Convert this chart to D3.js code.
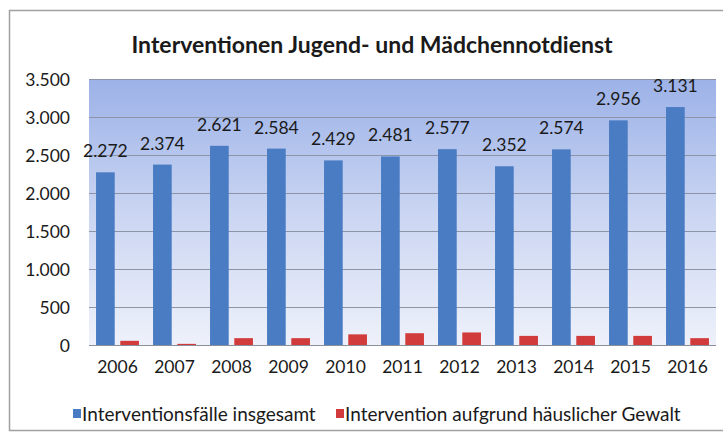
<!DOCTYPE html>
<html><head><meta charset="utf-8">
<script src="https://cdn.jsdelivr.net/npm/d3@7"></script>
<style>body{margin:0;background:#fff;} text{font-family:Lato,"Open Sans",sans-serif;fill:#1a1a1a;}</style>
</head><body>
<svg id="c" width="723" height="441"></svg>
<script>
const years = ["2006","2007","2008","2009","2010","2011","2012","2013","2014","2015","2016"];
const totalCases = [2272,2374,2621,2584,2429,2481,2577,2352,2574,2956,3131];
const domesticViolence = [55,15,90,90,140,155,165,120,120,120,90];
const seriesNames = ["Interventionsfälle insgesamt","Intervention aufgrund häuslicher Gewalt"];
const yTicks = [0,500,1000,1500,2000,2500,3000,3500];
const title = "Interventionen Jugend- und Mädchennotdienst";

const svg = d3.select("#c");
const fmt = d3.formatLocale({decimal:",",thousands:".",grouping:[3],currency:["","€"]}).format(",d");
const L=89,R=716,T=79,B=345;
const colors=["#4a7cc3","#d23b3c"];

svg.append("rect").attr("x",9.5).attr("y",10.5).attr("width",730).attr("height",420).attr("fill","#fff").attr("stroke","#a0a0a0").attr("stroke-width",1.5);

const defs=svg.append("defs");
const g=defs.append("linearGradient").attr("id","bg").attr("x1",0).attr("y1",0).attr("x2",0).attr("y2",1);
g.append("stop").attr("offset","0").attr("stop-color","#9db2e8");
g.append("stop").attr("offset","0.14").attr("stop-color","#a8bbea");
g.append("stop").attr("offset","0.5").attr("stop-color","#cad5f2");
g.append("stop").attr("offset","1").attr("stop-color","#eef1fa");

const x0=d3.scaleBand().domain(years).range([L,R]).padding(0);
const x1=d3.scaleBand().domain([0,1]).range([0,x0.bandwidth()]).paddingInner(0.23).paddingOuter(0.29);
const y=d3.scaleLinear().domain([0,3500]).range([B,T]);

svg.append("rect").attr("x",L).attr("y",T).attr("width",R-L).attr("height",B-T).attr("fill","url(#bg)");

svg.append("g").selectAll("line").data(yTicks).join("line")
  .attr("x1",L).attr("x2",R).attr("y1",d=>y(d)+0.5).attr("y2",d=>y(d)+0.5)
  .attr("stroke",d=>d===0?"#8a8f99":"#8d94a8").attr("stroke-width",1);

const yAxis=svg.append("g").attr("transform",`translate(${L-19},0)`).call(d3.axisLeft(y).tickValues(yTicks).tickFormat(fmt).tickSize(0));
yAxis.select(".domain").remove();
yAxis.selectAll("text").attr("font-size",17.5).attr("dy","0.35em").attr("x",0).style("font-family","Lato");

const xAxis=svg.append("g").attr("transform",`translate(0,${B})`).call(d3.axisBottom(x0).tickSize(0));
xAxis.select(".domain").remove();
xAxis.selectAll("text").attr("font-size",17.5).attr("y",22).attr("dy","0.35em").style("font-family","Lato");

const data=[totalCases,domesticViolence];
data.forEach((vals,si)=>{
  svg.append("g").selectAll("rect").data(vals).join("rect")
    .attr("x",(d,i)=>x0(years[i])+x1(si))
    .attr("width",x1.bandwidth())
    .attr("y",d=>y(d))
    .attr("height",d=>B-y(d))
    .attr("fill",colors[si]);
});

svg.append("g").selectAll("text").data(totalCases).join("text")
  .attr("x",(d,i)=>x0(years[i])+x1(0)+x1.bandwidth()/2)
  .attr("y",d=>y(d)-15)
  .attr("text-anchor","middle").attr("font-size",17.5).attr("fill","#1a1a1a")
  .text(d=>fmt(d));

svg.append("text").attr("x",372).attr("y",53).attr("text-anchor","middle")
  .attr("font-size",23).attr("font-weight","bold").text(title);

const leg=svg.append("g");
const lx=[73,336];
seriesNames.forEach((n,i)=>{
  leg.append("rect").attr("x",lx[i]).attr("y",409).attr("width",8).attr("height",9).attr("fill",colors[i]);
  leg.append("text").attr("x",lx[i]+9).attr("y",414).attr("dy","0.35em").attr("font-size",19).text(n);
});
</script>
</body></html>
